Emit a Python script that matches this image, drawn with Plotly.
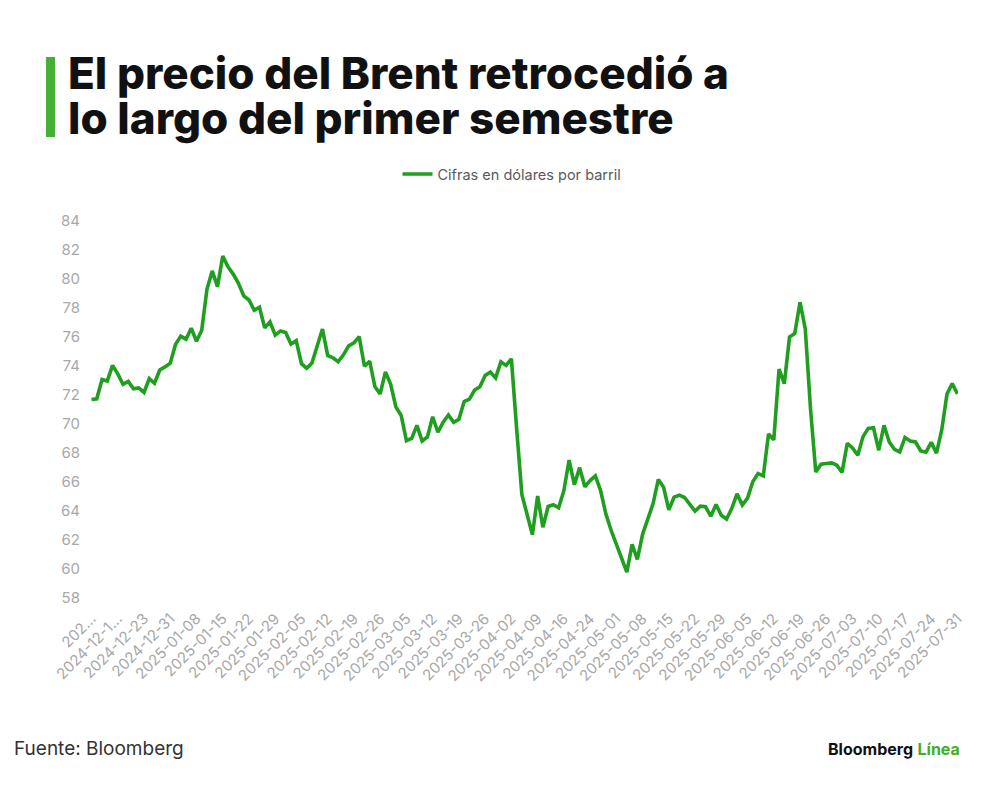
import pandas as pd
import plotly.graph_objects as go

# Brent, daily close (USD per barrel), trading days 2024-12-09 .. 2025-07-31
dates = pd.bdate_range("2024-12-09", "2025-07-31", freq="C",
                       holidays=["2024-12-25", "2025-01-01", "2025-04-18"]).strftime("%Y-%m-%d").tolist()

dec_2024 = [71.69, 71.74, 73.07, 72.96, 74.04, 73.46, 72.74, 72.94, 72.43, 72.49,
            72.18, 73.13, 72.81, 73.72, 73.94, 74.19]
jan_2025 = [75.48, 76.06, 75.85, 76.60, 75.71, 76.47, 79.31, 80.56, 79.47, 81.58,
            80.84, 80.34, 79.70, 78.84, 78.55, 77.84, 78.05, 76.63, 77.04, 76.13,
            76.42, 76.31]
feb_2025 = [75.51, 75.75, 74.16, 73.84, 74.21, 75.42, 76.55, 74.73, 74.57, 74.29,
            74.77, 75.39, 75.59, 76.03, 73.98, 74.33, 72.57, 72.08, 73.59, 72.73]
mar_2025 = [71.17, 70.59, 68.85, 69.01, 69.91, 68.83, 69.11, 70.50, 69.43, 70.13,
            70.62, 70.11, 70.33, 71.55, 71.71, 72.34, 72.57, 73.34, 73.58, 73.18,
            74.29]
apr_2025 = [74.04, 74.50, 69.69, 65.13, 63.76, 62.37, 65.03, 62.88, 64.31, 64.43,
            64.22, 65.40, 67.51, 65.81, 66.99, 65.67, 66.10, 66.42, 65.41, 63.80,
            62.67]
may_2025 = [61.68, 60.84, 59.78, 61.70, 60.67, 62.39, 63.46, 64.51, 66.18, 65.64,
            64.08, 64.96, 65.09, 64.93, 64.46, 63.99, 64.33, 64.29, 63.64, 64.45,
            63.70, 63.45]
jun_2025 = [64.18, 65.18, 64.41, 64.89, 66.02, 66.59, 66.42, 69.32, 68.91, 73.78,
            72.78, 76.00, 76.25, 78.40, 76.56, 71.03, 66.69, 67.23, 67.28, 67.32,
            67.16]
jul_2025 = [66.66, 68.66, 68.35, 67.85, 69.13, 69.70, 69.74, 68.19, 69.91, 68.76,
            68.26, 68.07, 69.07, 68.83, 68.76, 68.14, 68.06, 68.73, 67.99, 69.59,
            72.06, 72.79, 72.08]

prices = dec_2024 + jan_2025 + feb_2025 + mar_2025 + apr_2025 + may_2025 + jun_2025 + jul_2025

tick_labels = ["202...", "2024-12-1...", "2024-12-23", "2024-12-31", "2025-01-08",
               "2025-01-15", "2025-01-22", "2025-01-29", "2025-02-05", "2025-02-12",
               "2025-02-19", "2025-02-26", "2025-03-05", "2025-03-12", "2025-03-19",
               "2025-03-26", "2025-04-02", "2025-04-09", "2025-04-16", "2025-04-24",
               "2025-05-01", "2025-05-08", "2025-05-15", "2025-05-22", "2025-05-29",
               "2025-06-05", "2025-06-12", "2025-06-19", "2025-06-26", "2025-07-03",
               "2025-07-10", "2025-07-17", "2025-07-24", "2025-07-31"]
y_ticks = list(range(58, 86, 2))

GREEN = "#1f9e1f"
BAR_GREEN = "#45b035"
GREY = "#a8a8a8"

L, R, T, B = 91, 42, 221, 192
W, H = 1000, 790
PW, PH = W - L - R, H - T - B


def px_x(x):
    return (x - L) / PW


def px_y(y):
    return (H - B - y) / PH


fig = go.Figure()
fig.add_trace(go.Scatter(
    x=dates, y=prices, mode="lines", name="Cifras en dólares por barril",
    line=dict(color=GREEN, width=3.6),
))

fig.update_layout(
    width=W, height=H,
    margin=dict(l=L, r=R, t=T, b=B, autoexpand=False),
    paper_bgcolor="white", plot_bgcolor="white",
    font=dict(family="Inter, Roboto, sans-serif", color="#666"),
    showlegend=True,
    legend=dict(orientation="h", x=px_x(512), xanchor="center",
                y=px_y(174), yanchor="middle",
                font=dict(size=14.5, color="#5a5a5a"), itemwidth=30),
    xaxis=dict(type="category", tickmode="array", tickvals=dates[::5], ticktext=tick_labels,
               tickangle=-45, tickfont=dict(size=15, color=GREY), automargin=False,
               showgrid=False, zeroline=False, showline=False, ticks="", ticklabelstandoff=8,
               range=[-0.1, len(dates) - 0.9]),
    yaxis=dict(range=[58, 84], tickvals=y_ticks, tickfont=dict(size=15, color=GREY),
               automargin=False,
               showgrid=False, zeroline=False, showline=False, ticks="", ticklabelstandoff=10),
)

# green bar next to the title
fig.add_shape(type="rect", xref="paper", yref="paper",
              x0=px_x(46), x1=px_x(55), y0=px_y(137), y1=px_y(57),
              fillcolor=BAR_GREEN, line_width=0)

title_lines = ["El precio del Brent retrocedió a", "lo largo del primer semestre"]
for i, txt in enumerate(title_lines):
    fig.add_annotation(text=txt, xref="paper", yref="paper", x=px_x(66), y=px_y(73 + 45 * i),
                       xanchor="left", yanchor="middle", showarrow=False,
                       font=dict(family="Inter", size=44, color="#111", weight=800))

fig.add_annotation(text="Fuente: Bloomberg", xref="paper", yref="paper",
                   x=px_x(12), y=px_y(748), xanchor="left", yanchor="middle", showarrow=False,
                   font=dict(family="Inter", size=19, color="#333"))
fig.add_annotation(text="<b>Bloomberg</b> <b><span style='color:#3fae2a'>Línea</span></b>",
                   xref="paper", yref="paper",
                   x=px_x(962), y=px_y(749), xanchor="right", yanchor="middle", showarrow=False,
                   font=dict(family="Inter", size=16, color="#111"))

fig.write_html("out.html", config={"displayModeBar": False},
               post_script="document.body.style.margin='0';")
